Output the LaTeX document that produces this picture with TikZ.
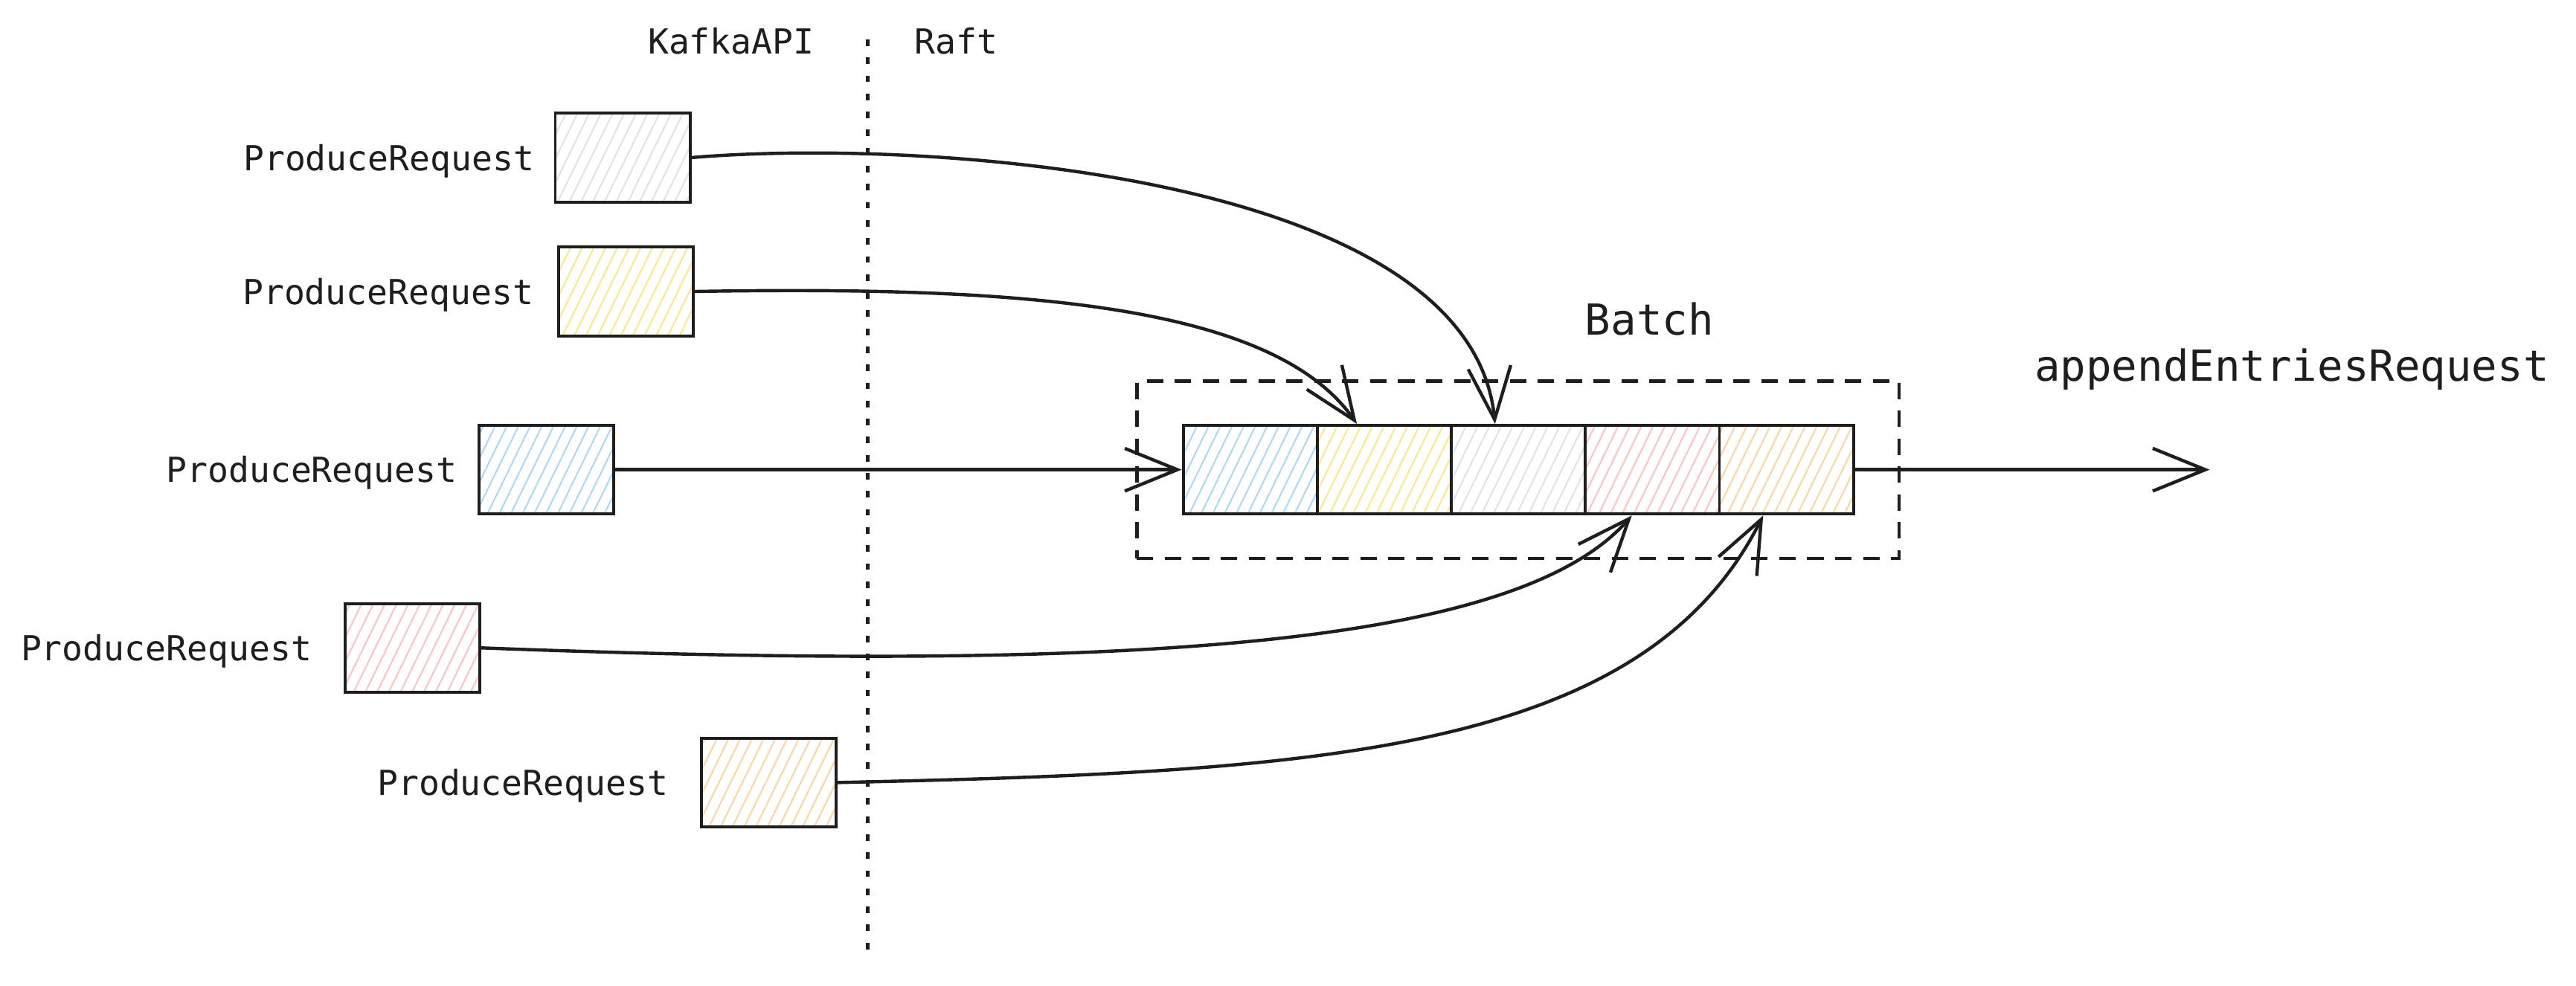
\documentclass[tikz,border=0pt]{standalone}
\usepackage{fontspec}
\setmonofont{DejaVu Sans Mono}
\usetikzlibrary{arrows.meta,patterns.meta,calc}
\definecolor{ink}{HTML}{1E1E1E}
\definecolor{hgray}{HTML}{DEE2E6}
\definecolor{hyellow}{HTML}{FFE58A}
\definecolor{hblue}{HTML}{A5D8FF}
\definecolor{hred}{HTML}{FFC0C0}
\definecolor{horange}{HTML}{FFD3A0}
\tikzset{
  req/.style={draw=ink, line width=0.9pt, rectangle, inner sep=0pt,
    minimum width=41pt, minimum height=27pt},
  cell/.style={draw=ink, line width=0.9pt, rectangle, inner sep=0pt,
    minimum width=40.8pt, minimum height=27pt},
  hatch/.style={pattern={Lines[angle=64,distance=3.2pt,line width=0.45pt]}, pattern color=#1},
  lbl/.style={font=\ttfamily\fontsize{10.5}{12}\selectfont, text=ink, inner sep=0pt},
  big/.style={font=\ttfamily\fontsize{13}{15}\selectfont, text=ink, inner sep=0pt},
  conn/.style={draw=ink, line width=1pt, -{Straight Barb[length=16pt,width=13pt,line width=1pt]}},
  dashbox/.style={draw=ink, line width=1pt, dash pattern=on 5pt off 3.5pt, rectangle,
    minimum width=232pt, minimum height=54pt, inner sep=0pt},
  divider/.style={draw=ink, line width=1.1pt, dash pattern=on 2pt off 3.5pt}
}
\begin{document}
\begin{tikzpicture}[x=0.5pt,y=-0.5pt]
\useasboundingbox (0,0) rectangle (1568,600);
% divider
\coordinate (dtop) at (528,24);
\coordinate (dbot) at (528,582);
\draw[divider] (dtop) -- (dbot);
\node[lbl, anchor=base] (kafka) at (445,33) {KafkaAPI};
\node[lbl, anchor=base] (raft) at (582,33) {Raft};
% request boxes
\node[req, hatch=hgray]   (b1) at (379,96) {};
\node[req, hatch=hyellow] (b2) at (381,177.5) {};
\node[req, hatch=hblue]   (b3) at (332.5,286) {};
\node[req, hatch=hred]    (b4) at (251,394.5) {};
\node[req, hatch=horange] (b5) at (468,476.5) {};
\foreach \i/\g in {1/12,2/14,3/12,4/19,5/19}{
  \node[lbl, anchor=east] (l\i) at ($(b\i.west)+(-\g,2)$) {ProduceRequest};
}
% batch
\node[dashbox] (bb) at (924,286) {};
\node[cell, hatch=hblue]   (c1) at (761,286) {};
\node[cell, hatch=hyellow] (c2) at (842.6,286) {};
\node[cell, hatch=hgray]   (c3) at (924.2,286) {};
\node[cell, hatch=hred]    (c4) at (1005.8,286) {};
\node[cell, hatch=horange] (c5) at (1087.4,286) {};
\node[big, anchor=base] (batch) at (1004,204) {Batch};
\node[big, anchor=base] (aer) at (1395,232) {appendEntriesRequest};
\coordinate (out) at (1345,286);
% connectors
\draw[conn] (b1.east) .. controls (560,84) and (895,105) .. ($(c3.north west)!0.33!(c3.north east)$);
\draw[conn] (b2.east) .. controls (620,174) and (775,185) .. ($(c2.north west)!0.3!(c2.north east)$);
\draw[conn] (b3.east) -- (c1.west);
\draw[conn] (b4.east) .. controls (700,410) and (925,392) .. ($(c4.south west)!0.35!(c4.south east)$);
\draw[conn] (b5.east) .. controls (800,470) and (1000,460) .. ($(c5.south west)!0.33!(c5.south east)$);
\draw[conn] (c5.east) -- (out);
\end{tikzpicture}
\end{document}
